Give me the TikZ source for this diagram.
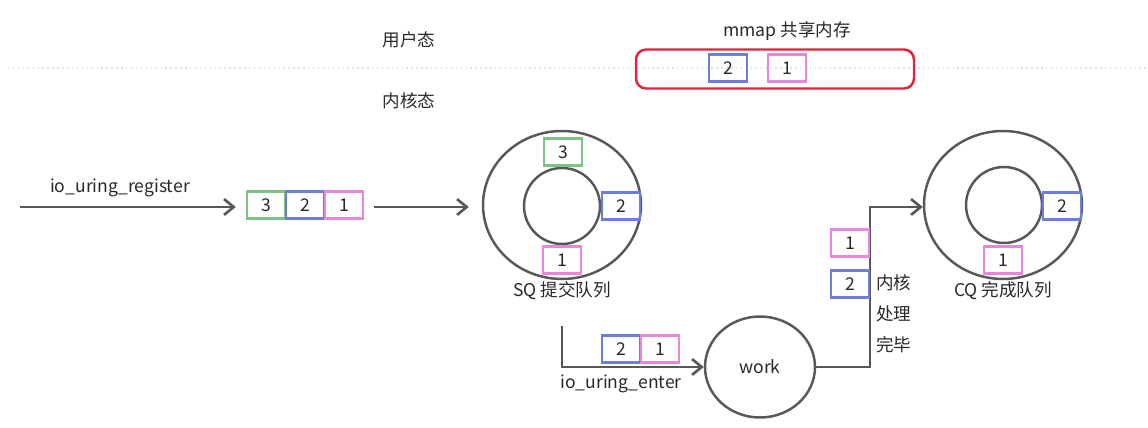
\documentclass[tikz,border=0pt]{standalone}
\usepackage{fontspec}
\setmainfont{Noto Sans CJK SC}
\usetikzlibrary{arrows.meta,shapes.geometric}
\definecolor{linegray}{RGB}{88,88,88}
\definecolor{textgray}{RGB}{40,40,40}
\definecolor{slotgreen}{RGB}{125,195,135}
\definecolor{slotblue}{RGB}{110,125,220}
\definecolor{slotpink}{RGB}{232,135,215}
\definecolor{shmred}{RGB}{225,35,60}
\tikzset{
	% slots of the rings, one colour per request
	slot/.style={rectangle,draw,line width=1.4pt,minimum width=0.76cm,minimum height=0.54cm,inner sep=0},
	green slot/.style={slot,draw=slotgreen},
	blue slot/.style={slot,draw=slotblue},
	pink slot/.style={slot,draw=slotpink},
	% rings and the worker
	outer ring/.style={ellipse,draw=linegray,line width=1.4pt,minimum width=3.16cm,minimum height=2.96cm},
	inner ring/.style={circle,draw=linegray,line width=1.4pt,minimum size=1.52cm},
	flow/.style={draw=linegray,line width=1.5pt,-{Straight Barb[length=5.5pt,width=9pt]}}
}

\begin{document}
\begin{tikzpicture}[x=0.02cm, y=-0.02cm, font=\fontsize{10}{12}\selectfont, text=textgray]

  \useasboundingbox (0,0) rectangle (1148,428);

  %% user / kernel split
  \coordinate(splitl) at (8,68);
  \coordinate(splitr) at (1148,68);
  \draw[gray!25, dotted, line width=0.8pt] (splitl) -- (splitr);
  \node(user) at (409,40) {用户态};
  \node(kernel) at (409,101) {内核态};

  %% shared memory
  \node(shm) at (775,69) [rectangle, rounded corners=0.2cm, draw=shmred, line width=1.4pt,
  minimum width=5.56cm, minimum height=0.78cm]{};
  \node(shmlabel) at (787,31) {mmap 共享内存};
  \node(shm2) at (728,68) [blue slot]{2};
  \node(shm1) at (787,68) [pink slot]{1};

  %% register
  \coordinate(regstart) at (20,207);
  \node(r3) at (266,205) [green slot]{3};
  \node(r2) at (305,205) [blue slot]{2};
  \node(r1) at (344,205) [pink slot]{1};
  \node(reglabel) at (120,188) {io\_uring\_register};
  \draw[flow, shorten >=0.2cm] (regstart) -- (r3.west|-regstart);

  %% submission queue
  \node(sq) at (562,205) [outer ring]{};
  \node(sqin) at (562,206) [inner ring]{};
  \node(sq3) at (563,152) [green slot]{3};
  \node(sq2) at (621,206) [blue slot]{2};
  \node(sq1) at (562,260) [pink slot]{1};
  \node(sqlabel) at (562,291) {SQ 提交队列};
  \draw[flow, shorten <=0.2cm, shorten >=0.26cm] (r1.east|-regstart) -- (sq.west|-regstart);

  %% enter and work
  \coordinate(enterstart) at (562,326);
  \node(work) at (760,367) [ellipse, draw=linegray, line width=1.4pt,
  minimum width=2.2cm, minimum height=2.02cm]{work};
  \node(e2) at (621,349) [blue slot]{2};
  \node(e1) at (660,349) [pink slot]{1};
  \node(enterlabel) at (621,384) {io\_uring\_enter};
  \draw[flow] (enterstart) |- (work.west);

  %% completion queue
  \node(cq) at (1003,205) [outer ring]{};
  \node(cqin) at (1004,205) [inner ring]{};
  \node(cq2) at (1062,206) [blue slot]{2};
  \node(cq1) at (1003,260) [pink slot]{1};
  \node(cqlabel) at (1003,291) {CQ 完成队列};
  \coordinate(turn) at (870,207);
  \draw[flow] (work.east) -| (turn) -- (cq.west|-turn);

  \node(d1) at (850,243) [pink slot]{1};
  \node(d2) at (850,284) [blue slot]{2};
  \node(donelabel) at (876,314) [anchor=west, align=left, inner sep=0,
  font=\fontsize{10}{17.6}\selectfont]{内核\\处理\\完毕};

\end{tikzpicture}
\end{document}
